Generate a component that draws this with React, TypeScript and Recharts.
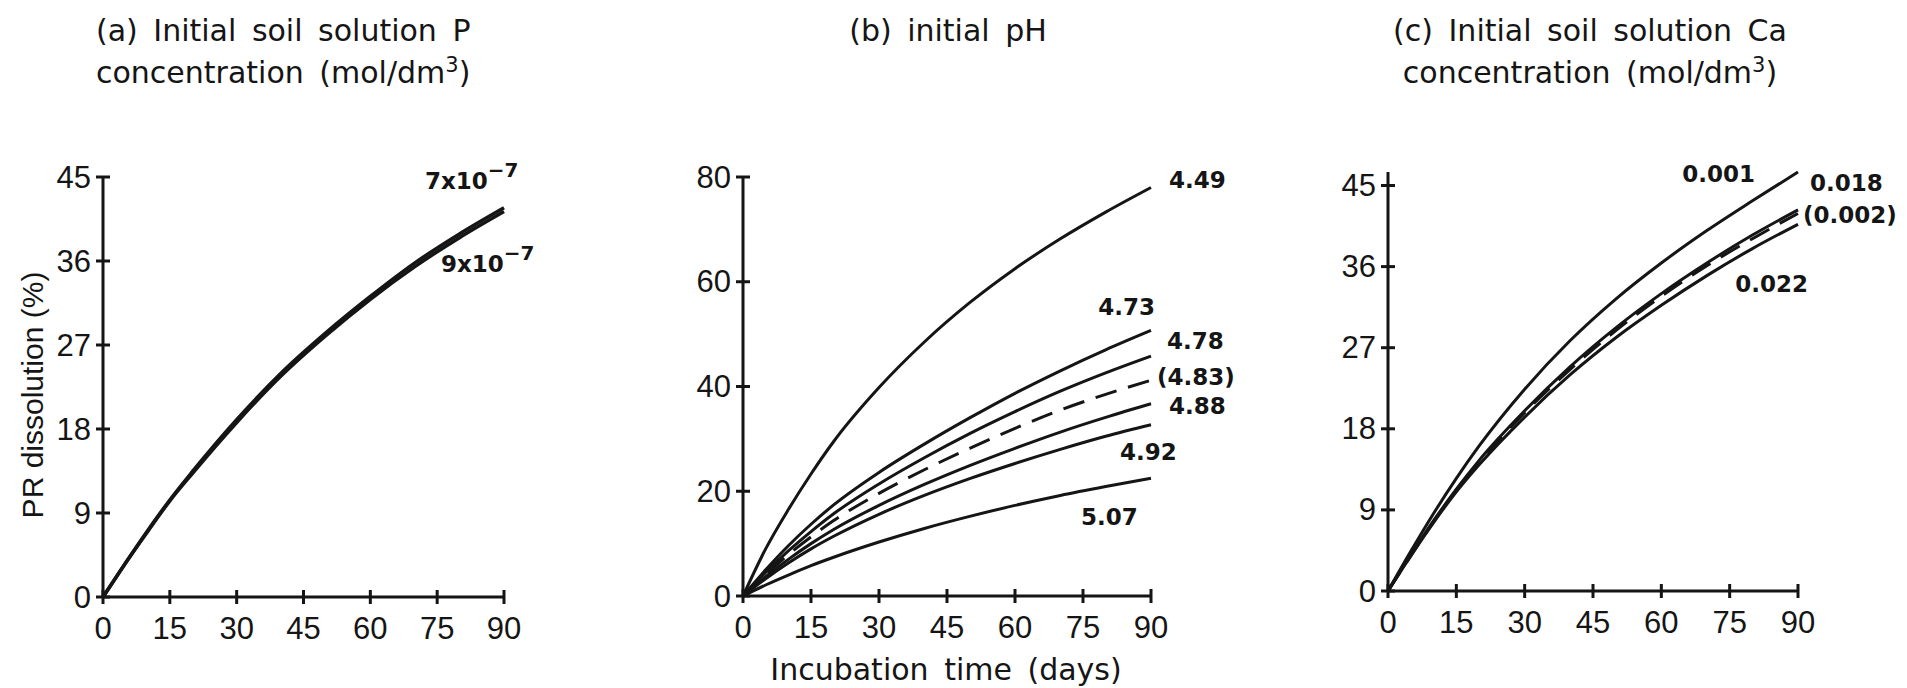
import { LineChart, Line, XAxis, YAxis } from 'recharts';

const days = [0, 5, 10, 15, 20, 30, 40, 50, 60, 70, 80, 90];
const dayTicks = [0, 15, 30, 45, 60, 75, 90];

// (a) initial soil solution P
const pTicks = [0, 9, 18, 27, 36, 45];
const p7e7 = [0, 3.6, 7.1, 10.4, 13.4, 19.0, 24.0, 28.3, 32.2, 35.8, 38.9, 41.7];
const p9e7 = [0, 3.6, 7.0, 10.3, 13.2, 18.7, 23.7, 28.0, 31.9, 35.4, 38.5, 41.3];

// (b) initial pH
const phTicks = [0, 20, 40, 60, 80];
const ph449 = [0, 9.0, 16.5, 23.3, 29.5, 39.8, 48.5, 56.0, 62.5, 68.2, 73.3, 78.0];
const ph473 = [0, 5.0, 9.6, 13.7, 17.4, 23.6, 29.0, 34.0, 38.7, 43.0, 47.0, 50.7];
const ph478 = [0, 4.5, 8.6, 12.3, 15.7, 21.4, 26.4, 31.0, 35.2, 39.1, 42.6, 45.8];
const ph483 = [0, 4.1, 7.9, 11.3, 14.4, 19.6, 24.1, 28.2, 32.0, 35.5, 38.5, 41.2];
const ph488 = [0, 3.7, 7.0, 10.0, 12.7, 17.3, 21.3, 24.9, 28.2, 31.3, 34.1, 36.7];
const ph492 = [0, 3.3, 6.3, 9.0, 11.4, 15.6, 19.2, 22.4, 25.3, 28.0, 30.5, 32.7];
const ph507 = [0, 2.1, 4.0, 5.8, 7.4, 10.3, 12.9, 15.2, 17.3, 19.2, 20.9, 22.5];

// (c) initial soil solution Ca
const caTicks = [0, 9, 18, 27, 36, 45];
const ca001 = [0, 4.4, 8.6, 12.5, 16.1, 22.4, 27.8, 32.4, 36.4, 40.0, 43.3, 46.5];
const ca018 = [0, 4.0, 7.8, 11.3, 14.5, 20.0, 24.9, 29.2, 33.0, 36.4, 39.5, 42.3];
const ca002 = [0, 3.9, 7.7, 11.2, 14.3, 19.8, 24.6, 28.9, 32.7, 36.1, 39.1, 41.9];
const ca022 = [0, 3.9, 7.6, 11.0, 14.0, 19.3, 24.0, 28.1, 31.7, 35.0, 38.0, 40.7];

const pData = days.map((day, i) => ({ day, p7: p7e7[i], p9: p9e7[i] }));
const phData = days.map((day, i) => ({
  day,
  a: ph449[i],
  b: ph473[i],
  c: ph478[i],
  d: ph483[i],
  e: ph488[i],
  f: ph492[i],
  g: ph507[i],
}));
const caData = days.map((day, i) => ({ day, a: ca001[i], b: ca018[i], c: ca002[i], d: ca022[i] }));

const INK = '#151515';
const TICK = 7;
const TICK_FONT = '"Liberation Sans", Arial, sans-serif';
const TEXT_FONT = '"DejaVu Sans", sans-serif';
const LAST = days.length - 1;

function XTick(props: any) {
  const { x, y, payload } = props;
  return (
    <g>
      <line x1={x} x2={x} y1={y - TICK} y2={y + TICK} stroke={INK} strokeWidth={3} />
      <text x={x} y={y + 31} textAnchor="middle" dominantBaseline="central" fontSize={31} fill={INK} fontFamily={TICK_FONT}>
        {payload.value}
      </text>
    </g>
  );
}

function YTick(props: any) {
  const { x, y, payload } = props;
  return (
    <g>
      <line x1={x - TICK} x2={x + TICK} y1={y} y2={y} stroke={INK} strokeWidth={3} />
      <text x={x - 12} y={y} textAnchor="end" dominantBaseline="central" fontSize={31} fill={INK} fontFamily={TICK_FONT}>
        {payload.value}
      </text>
    </g>
  );
}

// draws the series name next to the last point of a line
function endLabel(text: any, dx: number, dy: number, anchor: 'start' | 'end' = 'start') {
  return (props: any) => {
    const { cx, cy, index } = props;
    if (index !== LAST) return <g key={`d-${index}`} />;
    return (
      <text
        key={`d-${index}`}
        x={cx + dx}
        y={cy + dy}
        textAnchor={anchor}
        dominantBaseline="central"
        fontSize={23}
        fontWeight="bold"
        fill={INK}
        fontFamily={TEXT_FONT}
      >
        {text}
      </text>
    );
  };
}

const sci = (m: string) => (
  <>
    {m}x10
    <tspan dy={-11} fontSize={20}>
      −7
    </tspan>
  </>
);

function axes(yTicks: number[], yMax: number) {
  return [
    <XAxis
      key="x"
      dataKey="day"
      type="number"
      domain={[0, 90]}
      ticks={dayTicks}
      height={60}
      tickSize={0}
      tickMargin={0}
      tickLine={false}
      axisLine={{ stroke: INK, strokeWidth: 3 }}
      tick={<XTick />}
    />,
    <YAxis
      key="y"
      type="number"
      domain={[0, yMax]}
      ticks={yTicks}
      width={60}
      tickSize={0}
      tickMargin={0}
      tickLine={false}
      axisLine={{ stroke: INK, strokeWidth: 3 }}
      tick={<YTick />}
    />,
  ];
}

const titleStyle: any = {
  position: 'absolute',
  fontFamily: TEXT_FONT,
  fontSize: 30,
  lineHeight: '34px',
  wordSpacing: 6,
  color: INK,
  whiteSpace: 'nowrap',
};

export default function App() {
  return (
    <div style={{ position: 'absolute', left: 0, top: 0, width: 1907, height: 688, background: '#fff', overflow: 'hidden' }}>
      {/* (a) */}
      <div style={{ position: 'absolute', left: 0, top: 0 }}>
        <LineChart width={620} height={688} data={pData} margin={{ top: 177, right: 116, bottom: 31, left: 43 }}>
          {axes(pTicks, 45)}
          <Line dataKey="p7" type="monotone" stroke={INK} strokeWidth={3.5} isAnimationActive={false} dot={endLabel(sci('7'), -79, -27)} activeDot={false} />
          <Line dataKey="p9" type="monotone" stroke={INK} strokeWidth={3.5} isAnimationActive={false} dot={endLabel(sci('9'), -63, 52)} activeDot={false} />
        </LineChart>
      </div>
      <div style={{ ...titleStyle, left: 96, top: 14 }}>
        (a) Initial soil solution P
        <br />
        concentration (mol/dm<sup style={{ fontSize: 21 }}>3</sup>)
      </div>
      <div
        style={{
          position: 'absolute',
          left: 33,
          top: 395,
          transform: 'translate(-50%, -50%) rotate(-90deg)',
          fontFamily: TICK_FONT,
          fontSize: 30,
          color: INK,
          whiteSpace: 'nowrap',
        }}
      >
        PR dissolution (%)
      </div>

      {/* (b) */}
      <div style={{ position: 'absolute', left: 640, top: 0 }}>
        <LineChart width={620} height={688} data={phData} margin={{ top: 177, right: 109, bottom: 32, left: 43 }}>
          {axes(phTicks, 80)}
          <Line dataKey="a" type="monotone" stroke={INK} strokeWidth={3} isAnimationActive={false} dot={endLabel('4.49', 18, -7)} activeDot={false} />
          <Line dataKey="b" type="monotone" stroke={INK} strokeWidth={3} isAnimationActive={false} dot={endLabel('4.73', 4, -23, 'end')} activeDot={false} />
          <Line dataKey="c" type="monotone" stroke={INK} strokeWidth={3} isAnimationActive={false} dot={endLabel('4.78', 16, -15)} activeDot={false} />
          <Line dataKey="d" type="monotone" stroke={INK} strokeWidth={3} strokeDasharray="22 12" isAnimationActive={false} dot={endLabel('(4.83)', 6, -3)} activeDot={false} />
          <Line dataKey="e" type="monotone" stroke={INK} strokeWidth={3} isAnimationActive={false} dot={endLabel('4.88', 18, 2)} activeDot={false} />
          <Line dataKey="f" type="monotone" stroke={INK} strokeWidth={3} isAnimationActive={false} dot={endLabel('4.92', -31, 27)} activeDot={false} />
          <Line dataKey="g" type="monotone" stroke={INK} strokeWidth={3} isAnimationActive={false} dot={endLabel('5.07', -70, 39)} activeDot={false} />
        </LineChart>
      </div>
      <div style={{ ...titleStyle, left: 948, top: 14, transform: 'translateX(-50%)' }}>(b) initial pH</div>
      <div
        style={{
          ...titleStyle,
          left: 946,
          top: 670,
          transform: 'translate(-50%, -50%)',
        }}
      >
        Incubation time (days)
      </div>

      {/* (c) */}
      <div style={{ position: 'absolute', left: 1280, top: 0 }}>
        <LineChart width={627} height={688} data={caData} margin={{ top: 172, right: 109, bottom: 37, left: 48 }}>
          {axes(caTicks, 45)}
          <Line dataKey="a" type="monotone" stroke={INK} strokeWidth={3} isAnimationActive={false} dot={endLabel('0.001', -43, 2, 'end')} activeDot={false} />
          <Line dataKey="b" type="monotone" stroke={INK} strokeWidth={3} isAnimationActive={false} dot={endLabel('0.018', 12, -27)} activeDot={false} />
          <Line dataKey="c" type="monotone" stroke={INK} strokeWidth={3} strokeDasharray="22 12" isAnimationActive={false} dot={endLabel('(0.002)', 5, 2)} activeDot={false} />
          <Line dataKey="d" type="monotone" stroke={INK} strokeWidth={3} isAnimationActive={false} dot={endLabel('0.022', 10, 60, 'end')} activeDot={false} />
        </LineChart>
      </div>
      <div style={{ ...titleStyle, left: 1590, top: 14, transform: 'translateX(-50%)', textAlign: 'center' }}>
        (c) Initial soil solution Ca
        <br />
        concentration (mol/dm<sup style={{ fontSize: 21 }}>3</sup>)
      </div>
    </div>
  );
}
